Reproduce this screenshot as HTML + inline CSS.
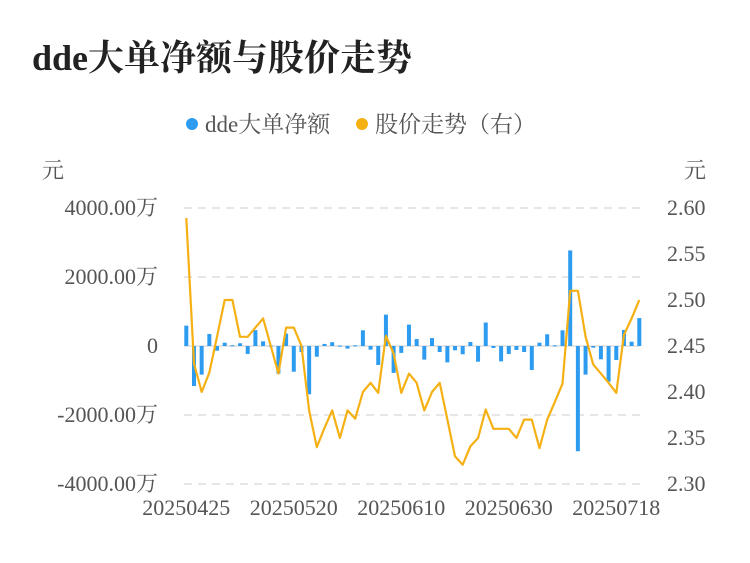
<!DOCTYPE html>
<html><head><meta charset="utf-8"><style>
body{margin:0;background:#fff;}
svg text{font-family:"Liberation Serif","Noto Serif CJK SC","Noto Sans CJK SC",serif;}
</style></head><body>
<svg id="chart" width="750" height="558">
<text x="32" y="70" font-size="36" font-weight="bold" fill="#222">dde大单净额与股价走势</text>
<g>
<circle cx="192" cy="124" r="6" fill="#2d9cf0"/>
<text x="205" y="132" font-size="23" fill="#555">dde大单净额</text>
<circle cx="362" cy="124" r="6" fill="#f5b014"/>
<text x="375" y="132" font-size="23" fill="#555">股价走势（右）</text>
</g>
<text x="42" y="178" font-size="22" fill="#555">元</text>
<text x="684" y="178" font-size="22" fill="#555">元</text>
<g id="grid"></g><g id="bars"></g><g id="line"></g><g id="axes"></g>
</svg>
<script>
const dates=["20250425","20250428","20250429","20250430","20250506","20250507","20250508","20250509","20250512","20250513","20250514","20250515","20250516","20250519","20250520","20250521","20250522","20250523","20250526","20250527","20250528","20250529","20250530","20250603","20250604","20250605","20250606","20250609","20250610","20250611","20250612","20250613","20250616","20250617","20250618","20250619","20250620","20250623","20250624","20250625","20250626","20250627","20250630","20250701","20250702","20250703","20250704","20250707","20250708","20250709","20250710","20250711","20250714","20250715","20250716","20250717","20250718","20250721","20250722","20250723"];
const ddeValues=[590,-1160,-830,350,-135,95,20,80,-230,460,135,10,-800,360,-745,-175,-1400,-310,60,110,10,-75,20,455,-105,-550,910,-780,-200,620,200,-395,230,-175,-475,-125,-240,115,-455,680,-58,-445,-230,-115,-175,-695,97,340,20,455,2770,-3050,-830,-48,-385,-1035,-405,465,125,810];
const priceValues=[2.589,2.431,2.400,2.421,2.460,2.500,2.500,2.460,2.460,2.470,2.480,2.450,2.420,2.470,2.470,2.450,2.380,2.340,2.361,2.380,2.350,2.380,2.371,2.400,2.410,2.399,2.461,2.442,2.399,2.420,2.410,2.380,2.400,2.410,2.370,2.330,2.321,2.341,2.350,2.381,2.360,2.360,2.360,2.350,2.370,2.370,2.339,2.370,2.389,2.409,2.510,2.510,2.460,2.430,2.420,2.410,2.399,2.462,2.480,2.500];
const leftTicks=[4000,2000,0,-2000,-4000];
const leftTickLabels=["4000.00万","2000.00万","0","-2000.00万","-4000.00万"];
const rightTicks=[2.60,2.55,2.50,2.45,2.40,2.35,2.30];
const xLabelIdx=[0,14,28,42,56];
const NS="http://www.w3.org/2000/svg";
const x0=186.3,x1=639.3;
const xs=i=>x0+(x1-x0)*i/(dates.length-1);
const yL=v=>346-v*138/4000;
const yR=v=>208+(2.60-v)*920;
function mk(tag,attrs,parent){const e=document.createElementNS(NS,tag);for(const k in attrs)e.setAttribute(k,attrs[k]);document.getElementById(parent).appendChild(e);return e;}
leftTicks.forEach((t,k)=>{
 const y=yL(t);
 const g=mk("line",{x1:184,x2:640,y1:y,y2:y,stroke:"#e6e6e6","stroke-width":2,"stroke-dasharray":t===0?"":"8,6"},"grid");
 
 
 const tx=mk("text",{x:158,y:y+7,"font-size":22,fill:"#555","text-anchor":"end"},"axes");
 tx.textContent=leftTickLabels[k];
 
 
});
rightTicks.forEach(t=>{
 const tx=mk("text",{x:667,y:yR(t)+7,"font-size":22,fill:"#555"},"axes");
 tx.textContent=t.toFixed(2);
 
 
});
xLabelIdx.forEach(i=>{
 const tx=mk("text",{x:xs(i),y:515,"font-size":22,fill:"#555","text-anchor":"middle"},"axes");
 tx.textContent=dates[i];
 
 
});
ddeValues.forEach((v,i)=>{
 const y=yL(Math.max(v,0)),h=Math.max(Math.abs(yL(v)-yL(0)),1);
 const r=mk("rect",{x:xs(i)-2,y:y,width:4,height:h,fill:"#2d9cf0"},"bars");
 
 
});
const pts=priceValues.map((v,i)=>xs(i).toFixed(1)+","+yR(v).toFixed(1)).join(" ");
const pl=mk("polyline",{points:pts,fill:"none",stroke:"#f5b014","stroke-width":2.2,"stroke-linejoin":"round"},"line");


</script>
</body></html>
